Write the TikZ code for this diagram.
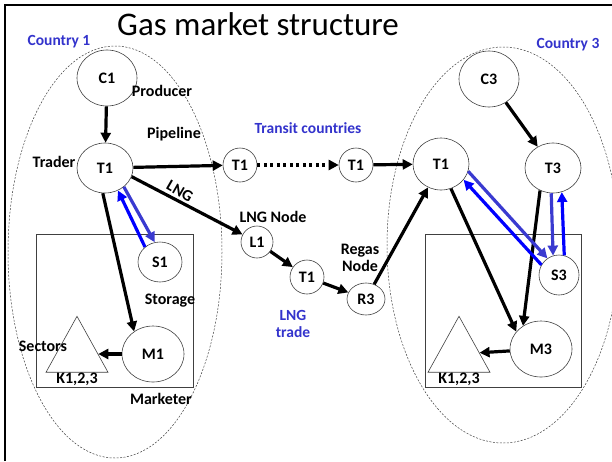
\documentclass[tikz,border=0pt]{standalone}
\usepackage{fontspec}
\setmainfont{Carlito}
\usetikzlibrary{
  arrows.meta,
  shapes.geometric
}
\definecolor{countryBlue}{HTML}{3333CC}
\definecolor{storeBlue}{HTML}{3A3AD0}
\definecolor{backBlue}{HTML}{0000FF}
\definecolor{rimGray}{HTML}{404040}
\tikzset{
  actor/.style   = {ellipse, draw=rimGray, line width=0.6pt, inner sep=0pt,
                    font=\fontsize{16}{18}\selectfont\bfseries},
  small/.style   = {circle, draw=rimGray, line width=0.6pt, inner sep=0pt,
                    minimum size=34pt, font=\fontsize{16}{18}\selectfont\bfseries},
  sector/.style  = {isosceles triangle, shape border rotate=90,
                    isosceles triangle stretches, draw=rimGray,
                    line width=0.6pt, minimum width=62pt, minimum height=56pt,
                    inner sep=0pt},
  note/.style    = {font=\fontsize{16}{18}\selectfont\bfseries, align=center},
  region/.style  = {font=\fontsize{15.5}{18}\selectfont\bfseries,
                    text=countryBlue, align=center},
  border/.style  = {draw=rimGray, dash pattern=on 2pt off 1.5pt, line width=0.5pt},
  arrow/.style   = {-{Triangle[length=10pt,width=10pt]}, line width=3.2pt},
  toStore/.style = {arrow, draw=storeBlue},
  fromStore/.style = {arrow, draw=backBlue}
}
\begin{document}
\begin{tikzpicture}[x=1pt, y=-1pt]
\useasboundingbox (0,0) rectangle (612,461);
% slide frame
\draw[line width=2pt] (5,461) -- (5,5) -- (612,5);
\node[font=\fontsize{33}{40}\selectfont] (title) at (258,24) {Gas market structure};
% country borders
\draw[border] (115,252) ellipse [x radius=107, y radius=206];
\draw[border] (503,245) ellipse [x radius=116, y radius=198];
\draw[rimGray, line width=0.6pt] (36,234) rectangle (193,387);
\draw[rimGray, line width=0.6pt] (425,234) rectangle (581,387);
\node[region] (cty1) at (59,42) {Country 1};
\node[region] (cty3) at (568,45) {Country 3};
\node[region] (transit) at (308,128) {Transit countries};
\node[region] (lngtrade) at (293,324) {LNG\\[-1pt]trade};
% country 1
\node[actor, minimum width=60pt, minimum height=56pt] (c1) at (107,78) {C1};
\node[actor, minimum width=56pt, minimum height=50pt] (t1) at (105,168) {T1};
\node[actor, minimum width=44pt, minimum height=40pt] (s1) at (160,262) {S1};
\node[actor, minimum width=62pt, minimum height=56pt] (m1) at (153,354) {M1};
\node[sector] (k1) at (77,354) {};
\node[note, anchor=base] (k1txt) at (77,383) {K1,2,3};
% transit and LNG chain
\node[small] (t1a) at (240,165) {T1};
\node[small] (t1b) at (356,165) {T1};
\node[small, minimum size=32pt] (l1) at (257,242) {L1};
\node[small] (t1l) at (307,277) {T1};
\node[actor, minimum width=38pt, minimum height=32pt] (r3) at (366,299) {R3};
% country 3
\node[actor, minimum width=60pt, minimum height=56pt] (c3) at (489,79) {C3};
\node[actor, minimum width=56pt, minimum height=52pt] (t13) at (441,164) {T1};
\node[actor, minimum width=56pt, minimum height=50pt] (t3) at (553,168) {T3};
\node[actor, minimum width=40pt, minimum height=40pt] (s3) at (559,275) {S3};
\node[actor, minimum width=62pt, minimum height=56pt] (m3) at (541,349) {M3};
\node[sector] (k3) at (459,354) {};
\node[note, anchor=base] (k3txt) at (459,383) {K1,2,3};
% role labels
\node[note] (producer) at (162,91) {Producer};
\node[note] (pipeline) at (174,134) {Pipeline};
\node[note] (trader) at (54,162) {Trader};
\node[note, rotate=-30, inner sep=1pt] (lng) at (180,191) {LNG};
\node[note] (lngnode) at (273,217) {LNG Node};
\node[note] (regas) at (360,258) {Regas\\[-1pt]Node};
\node[note] (storage) at (170,301) {Storage};
\node[note] (sectors) at (43,346) {Sectors};
\node[note] (marketer) at (161,399) {Marketer};
% gas flows
\draw[arrow] (c1) -- (t1);
\draw[arrow] (t1) -- (t1a);
\draw[arrow, dash pattern=on 3pt off 3.5pt] (t1a) -- (t1b);
\draw[arrow] (t1b) -- (t13);
\draw[arrow] (t1.-18) -- (l1);
\draw[arrow] (l1) -- (t1l);
\draw[arrow] (t1l) -- (r3);
\draw[arrow] (r3) -- (t13);
\draw[arrow] (t1.-95) -- (m1.130);
\draw[arrow] (m1) -- (k1);
\draw[arrow] (c3) -- (t3);
\draw[arrow] (t13.-68) -- (m3.145);
\draw[arrow] (t3.-120) -- (m3.128);
\draw[arrow] (m3) -- (k3);
% storage injection and withdrawal
\draw[toStore] (t1.-45) -- (s1.105);
\draw[fromStore] (s1.135) -- (t1.-60);
\draw[toStore] (t13.-15) -- (s3.125);
\draw[fromStore] (s3.150) -- (t13.-35);
\draw[toStore] (t3.-94) -- (s3.107);
\draw[fromStore] (s3.75) -- (t3.-70);
\end{tikzpicture}
\end{document}
